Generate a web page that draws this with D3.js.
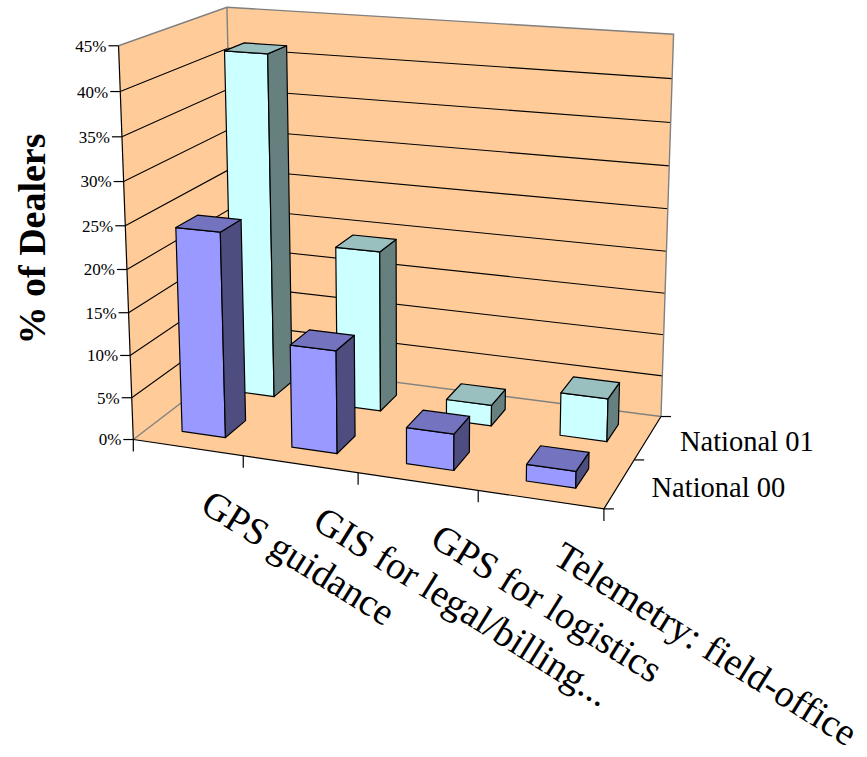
<!DOCTYPE html>
<html>
<head>
<meta charset="utf-8">
<script src="https://cdn.jsdelivr.net/npm/d3@7"></script>
<style>
  html, body { margin: 0; padding: 0; background: #ffffff; }
  svg { display: block; }
  text { font-family: "Liberation Serif", "Times New Roman", serif; fill: #000; }
</style>
</head>
<body>
<svg id="chart" width="867" height="757"></svg>
<script>
// ---- data ----
const categories = ["GPS guidance", "GIS for legal/billing...", "GPS for logistics", "Telemetry: field-office"];
const seriesNames = ["National 00", "National 01"];
const national00 = [24.1, 12.0, 4.2, 1.9];
const national01 = [41.6, 19.4, 2.5, 5.1];
const valueTicks = [0, 5, 10, 15, 20, 25, 30, 35, 40, 45];
const valueTickLabels = ["0%", "5%", "10%", "15%", "20%", "25%", "30%", "35%", "40%", "45%"];
const axisTitle = "% of Dealers";

const seriesValues = { "National 00": national00, "National 01": national01 };

// ---- scales into world units (x: columns, y: value height, z: depth rows) ----
const xScale = d3.scaleBand().domain(categories).range([0, 4]).paddingInner(0.6).paddingOuter(0.3);
const zScale = d3.scaleBand().domain(seriesNames).range([0, 2]).paddingInner(0.6).paddingOuter(0.3);
const yScale = d3.scaleLinear().domain([0, 45]).range([0, 3]);
const X_MAX = 4, Z_MAX = 2, V_MAX = 45;

// ---- perspective camera, calibrated from where the plot cube sits on the page ----
// [column, value, depth, pageX, pageY]
const frameAnchors = [
  [0, 0, 0, 133.3, 439.3],
  [1, 0, 0, 243.3, 455.5],
  [2, 0, 0, 357.7, 472.3],
  [3, 0, 0, 477.7, 490.0],
  [4, 0, 0, 604.0, 508.5],
  [4, 0, 1, 636.0, 460.5],
  [4, 0, 2, 660.0, 416.7],
  [0, 45, 0, 118.5, 45.7],
  [0, 45, 2, 227.3, 6.7],
  [4, 45, 2, 673.3, 34.3],
  [0, 5, 0, 131.8, 398.3],
  [0, 10, 0, 130.2, 355.7],
  [0, 15, 0, 128.5, 312.3],
  [0, 20, 0, 126.9, 269.3],
  [0, 25, 0, 125.3, 226.7],
  [0, 30, 0, 123.6, 181.7],
  [0, 35, 0, 121.9, 136.7],
  [0, 40, 0, 120.2, 91.7]
];
const NORM_C = 400, NORM_S = 400;

function solveCamera(anchors) {
  const rows = [], rhs = [];
  anchors.forEach(([cx, val, dz, px, py]) => {
    const X = cx, Y = yScale(val), Z = dz;
    const u = (px - NORM_C) / NORM_S, v = (py - NORM_C) / NORM_S;
    rows.push([X, Y, Z, 1, 0, 0, 0, 0, -u * X, -u * Y, -u * Z]); rhs.push(u);
    rows.push([0, 0, 0, 0, X, Y, Z, 1, -v * X, -v * Y, -v * Z]); rhs.push(v);
  });
  const n = 11;
  const M = Array.from({ length: n }, () => new Array(n + 1).fill(0));
  rows.forEach((r, k) => {
    for (let i = 0; i < n; i++) {
      for (let j = 0; j < n; j++) M[i][j] += r[i] * r[j];
      M[i][n] += r[i] * rhs[k];
    }
  });
  for (let c = 0; c < n; c++) {
    let piv = c;
    for (let r = c + 1; r < n; r++) if (Math.abs(M[r][c]) > Math.abs(M[piv][c])) piv = r;
    [M[c], M[piv]] = [M[piv], M[c]];
    for (let r = 0; r < n; r++) {
      if (r === c) continue;
      const f = M[r][c] / M[c][c];
      for (let j = c; j <= n; j++) M[r][j] -= f * M[c][j];
    }
  }
  return M.map((row, i) => row[n] / row[i]);
}
const cam = solveCamera(frameAnchors);

// world point -> page point
function project(X, Y, Z) {
  const w = cam[8] * X + cam[9] * Y + cam[10] * Z + 1;
  const u = (cam[0] * X + cam[1] * Y + cam[2] * Z + cam[3]) / w;
  const v = (cam[4] * X + cam[5] * Y + cam[6] * Z + cam[7]) / w;
  return [u * NORM_S + NORM_C, v * NORM_S + NORM_C];
}
const P = (x, val, z) => project(x, yScale(val), z);
const line = d3.line();
const poly = pts => line(pts) + "Z";

const svg = d3.select("#chart");

// ---- walls and floor ----
const WALL_FILL = "#FFCC99", EDGE = "#808080";
const gWalls = svg.append("g");
gWalls.append("path").attr("d", poly([P(0, 0, 0), P(0, 0, Z_MAX), P(0, V_MAX, Z_MAX), P(0, V_MAX, 0)]))
  .attr("fill", WALL_FILL);
gWalls.append("path").attr("d", poly([P(0, 0, Z_MAX), P(X_MAX, 0, Z_MAX), P(X_MAX, V_MAX, Z_MAX), P(0, V_MAX, Z_MAX)]))
  .attr("fill", WALL_FILL);
gWalls.append("path").attr("d", poly([P(0, 0, 0), P(X_MAX, 0, 0), P(X_MAX, 0, Z_MAX), P(0, 0, Z_MAX)]))
  .attr("fill", WALL_FILL);

// gridlines across left and back walls
const gGrid = svg.append("g");
valueTicks.filter(v => v > 0 && v < V_MAX).forEach(v => {
  gGrid.append("path")
    .attr("d", line([P(0, v, 0), P(0, v, Z_MAX), P(X_MAX, v, Z_MAX)]))
    .attr("fill", "none").attr("stroke", "#000").attr("stroke-width", 1.1);
});

// wall borders
const gEdges = svg.append("g").attr("fill", "none").attr("stroke", EDGE).attr("stroke-width", 1.4);
gEdges.append("path").attr("d", line([P(0, V_MAX, 0), P(0, V_MAX, Z_MAX), P(X_MAX, V_MAX, Z_MAX), P(X_MAX, 0, Z_MAX)]));
gEdges.append("path").attr("d", line([P(0, V_MAX, Z_MAX), P(0, 0, Z_MAX)]));
gEdges.append("path").attr("d", line([P(0, 0, 0), P(0, 0, Z_MAX), P(X_MAX, 0, Z_MAX)]));

// ---- axes ----
const gAxes = svg.append("g").attr("fill", "none").attr("stroke", "#000").attr("stroke-width", 1.2);
gAxes.append("path").attr("d", line([P(0, 0, 0), P(0, V_MAX, 0)]));
gAxes.append("path").attr("d", line([P(0, 0, 0), P(X_MAX, 0, 0), P(X_MAX, 0, Z_MAX)]));

// value axis ticks + labels
valueTicks.forEach((v, i) => {
  const [x, y] = P(0, v, 0);
  gAxes.append("path").attr("d", line([[x - 10, y], [x, y]]));
  svg.append("text")
    .attr("x", x - 12).attr("y", y).attr("dy", "0.35em")
    .attr("text-anchor", "end").attr("font-size", 17)
    .text(valueTickLabels[i]);
});

// category axis ticks (column boundaries)
d3.range(categories.length + 1).forEach(i => {
  const [x, y] = P(i, 0, 0);
  gAxes.append("path").attr("d", line([[x, y], [x, y + 12]]));
});

// depth axis ticks (row boundaries)
d3.range(seriesNames.length + 1).forEach(i => {
  const [x, y] = P(X_MAX, 0, i);
  gAxes.append("path").attr("d", line([[x, y], [x + 10, y]]));
});

// ---- bars ----
const seriesStyle = {
  "National 00": { front: "#9999FF", top: "#7373BF", side: "#4D4D80" },
  "National 01": { front: "#CCFFFF", top: "#99BFBF", side: "#668080" }
};
const gBars = svg.append("g").attr("stroke", "#000").attr("stroke-width", 1.2).attr("stroke-linejoin", "round");
// far row first, then left to right so nearer boxes overlap farther ones
seriesNames.slice().reverse().forEach(s => {
  const z0 = zScale(s), z1 = z0 + zScale.bandwidth();
  const st = seriesStyle[s];
  categories.forEach((c, i) => {
    const v = seriesValues[s][i];
    const x0 = xScale(c), x1 = x0 + xScale.bandwidth();
    const g = gBars.append("g");
    g.append("path").attr("fill", st.front)
      .attr("d", poly([P(x0, 0, z0), P(x1, 0, z0), P(x1, v, z0), P(x0, v, z0)]));
    g.append("path").attr("fill", st.side)
      .attr("d", poly([P(x1, 0, z0), P(x1, 0, z1), P(x1, v, z1), P(x1, v, z0)]));
    g.append("path").attr("fill", st.top)
      .attr("d", poly([P(x0, v, z0), P(x1, v, z0), P(x1, v, z1), P(x0, v, z1)]));
  });
});

// ---- labels ----
categories.forEach(c => {
  const [x, y] = P(xScale(c) + xScale.bandwidth() / 2, 0, 0);
  svg.append("text")
    .attr("transform", `translate(${x + 11},${y + 63}) rotate(32)`)
    .attr("font-size", 38.5)
    .text(c);
});

seriesNames.forEach(s => {
  const [x, y] = P(X_MAX, 0, zScale(s) + zScale.bandwidth() / 2);
  svg.append("text")
    .attr("x", x + 32).attr("y", y + 13)
    .attr("font-size", 28.5)
    .text(s);
});

svg.append("text")
  .attr("transform", "translate(45,239) rotate(-90)")
  .attr("text-anchor", "middle")
  .attr("font-size", 38).attr("font-weight", "bold")
  .text(axisTitle);
</script>
</body>
</html>
